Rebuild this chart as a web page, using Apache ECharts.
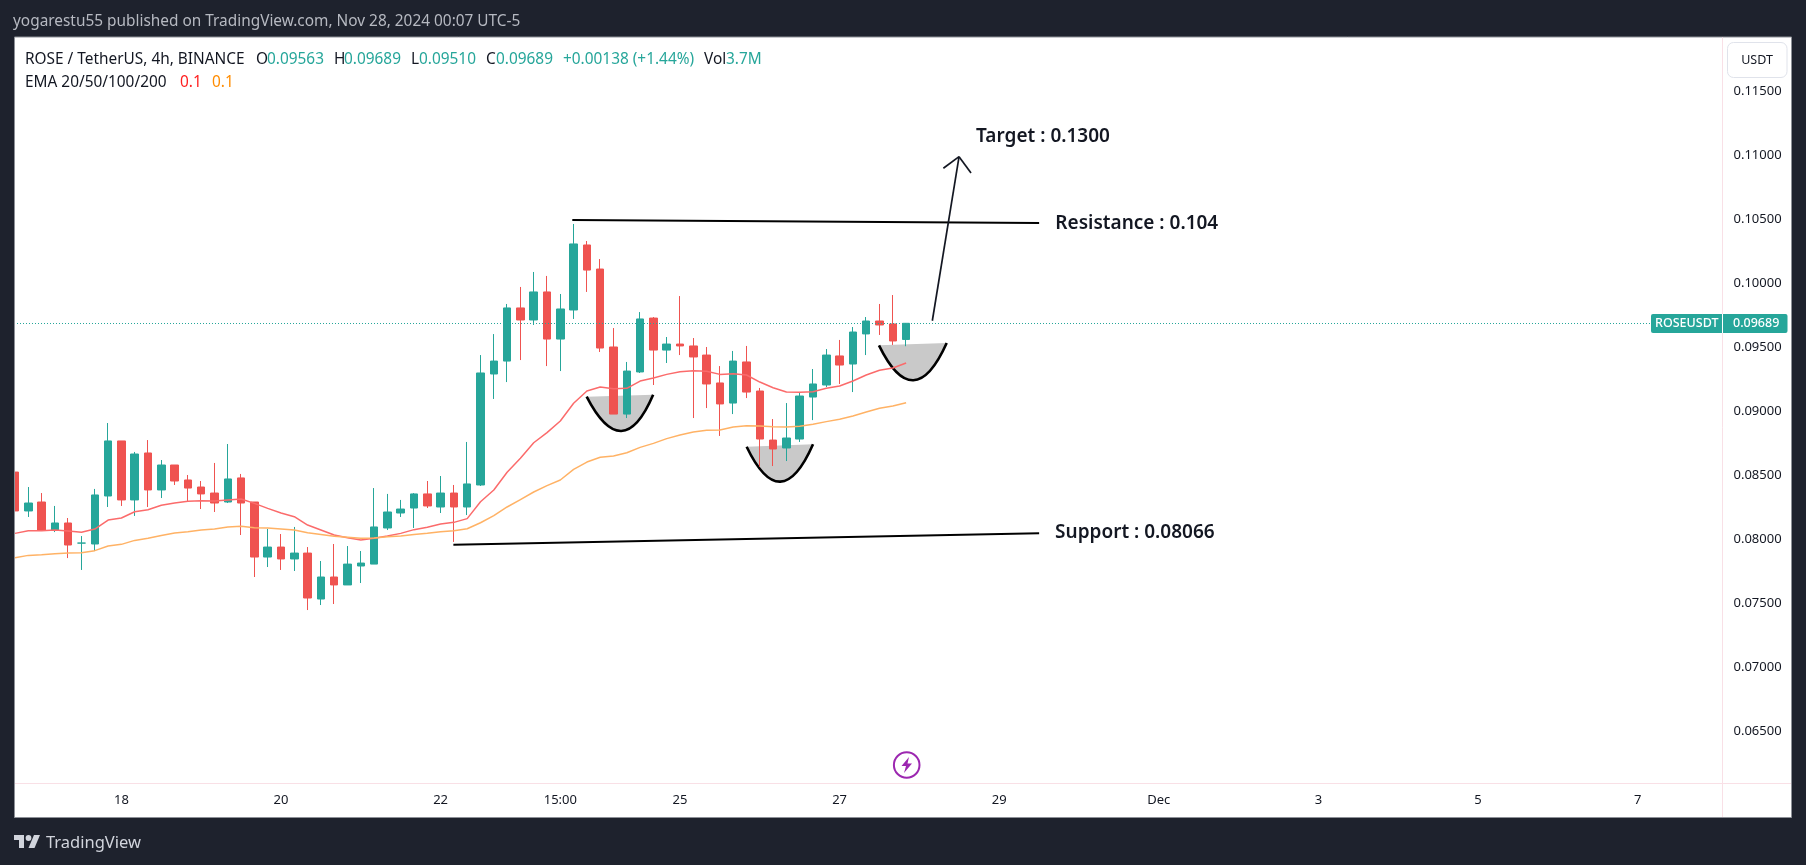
<!DOCTYPE html>
<html>
<head>
<meta charset="utf-8">
<title>ROSEUSDT 4h</title>
<style>
html, body { margin: 0; padding: 0; background: #1e222d; }
#chart { width: 1806px; height: 865px; }
</style>
<script src="https://cdn.jsdelivr.net/npm/echarts@6/dist/echarts.min.js"></script>
</head>
<body>
<div id="chart"></div>
<script>
var opens = [.08527,.08223,.08293,.08074,.08129,.07972,.07965,.08340,.08770,.08309,.08676,.08387,.08582,.08465,.08410,.08363,.08293,.08481,.08293,.07863,.07941,.07848,.07894,.07535,.07707,.07645,.07793,.07808,.08090,.08207,.08246,.08356,.08254,.08363,.08254,.08426,.09293,.09394,.09809,.09715,.09934,.09566,.09793,.10301,.10113,.09504,.08980,.09309,.09730,.09480,.09527,.09512,.09441,.09223,.09066,.09387,.09160,.08777,.08715,.08785,.09113,.09207,.09434,.09371,.09606,.09707,.09684,.09563];
var closes = [.08223,.08285,.08074,.08129,.07957,.07972,.08348,.08770,.08309,.08668,.08387,.08582,.08457,.08402,.08356,.08285,.08473,.08285,.07863,.07941,.07848,.07894,.07543,.07707,.07645,.07808,.07816,.08098,.08215,.08238,.08356,.08262,.08363,.08254,.08434,.09301,.09394,.09809,.09715,.09934,.09566,.09801,.10309,.10105,.09496,.08980,.09316,.09723,.09480,.09527,.09512,.09426,.09215,.09059,.09394,.09152,.08785,.08707,.08793,.09121,.09215,.09441,.09363,.09621,.09707,.09676,.09551,.09689];
var lows = [.07991,.08176,.08074,.08058,.07855,.07762,.07910,.08254,.08262,.08184,.08254,.08324,.08426,.08293,.08238,.08215,.08285,.08035,.07707,.07785,.07762,.07754,.07449,.07488,.07496,.07645,.07660,.07808,.08074,.08176,.08090,.08246,.08207,.07981,.08191,.08418,.09098,.09230,.09402,.09676,.09355,.09316,.09723,.09934,.09465,.08980,.08949,.09301,.09207,.09379,.09441,.08949,.09027,.08809,.08980,.09105,.08569,.08574,.08613,.08762,.08933,.09191,.09215,.09152,.09441,.09598,.09520,.09510];
var highs = [.08564,.08410,.08363,.08262,.08168,.08027,.08395,.08910,.08770,.08684,.08777,.08621,.08582,.08504,.08457,.08598,.08746,.08512,.08293,.08082,.08043,.08098,.07941,.07832,.07965,.07949,.07910,.08402,.08356,.08309,.08363,.08457,.08496,.08426,.08762,.09441,.09605,.09840,.09973,.10090,.10059,.09918,.10465,.10332,.10191,.09652,.09387,.09777,.09738,.09582,.09902,.09574,.09504,.09355,.09473,.09512,.09184,.08941,.09066,.09145,.09332,.09488,.09559,.09660,.09738,.09840,.09910,.09689];
var ema20 = [.08048,.08069,.08069,.08074,.08066,.08056,.08082,.08152,.08168,.08217,.08233,.08267,.08285,.08298,.08303,.08301,.08309,.08316,.08282,.08243,.08207,.08178,.08113,.08074,.08035,.08014,.07996,.08009,.08027,.08048,.08077,.08095,.08121,.08134,.08163,.08295,.08387,.08525,.08634,.08756,.08835,.08926,.09064,.09160,.09191,.09178,.09181,.09238,.09262,.09290,.09311,.09319,.09314,.09290,.09295,.09285,.09230,.09186,.09152,.09150,.09155,.09181,.09199,.09238,.09285,.09322,.09340,.09379];
var ema50 = [.07858,.07876,.07881,.07889,.07894,.07897,.07913,.07949,.07962,.07993,.08009,.08032,.08051,.08061,.08074,.08082,.08098,.08103,.08092,.08090,.08082,.08074,.08053,.08040,.08025,.08017,.08009,.08012,.08022,.08027,.08040,.08048,.08061,.08069,.08084,.08131,.08186,.08254,.08311,.08371,.08421,.08465,.08548,.08605,.08642,.08652,.08678,.08720,.08751,.08788,.08816,.08840,.08853,.08855,.08879,.08889,.08887,.08881,.08879,.08884,.08900,.08921,.08939,.08965,.08996,.09025,.09043,.09069];

var lastPrice = 0.09689;
var priceTicks = [0.065, 0.07, 0.075, 0.08, 0.085, 0.09, 0.095, 0.1, 0.105, 0.11, 0.115];
var timeTickIndex = [8, 20, 32, 41, 50, 62, 74, 86, 98, 110, 122];
var timeTickLabels = ['18', '20', '22', '15:00', '25', '27', '29', 'Dec', '3', '5', '7'];

// drawn on top of the chart: [bar, price, bar, price]
var drawnLines = [
	[41.9, 0.10496, 77.0, 0.10473],
	[32.96, 0.07959, 77.0, 0.08048],
	[68.97, 0.09709, 70.98, 0.10991],
	[69.8, 0.10900, 70.98, 0.10991],
	[71.88, 0.10863, 70.98, 0.10991]
];
// cups: [left bar, left price, right bar, right price, bottom bar, bottom price]
var cups = [
	[42.98, 0.09116, 47.98, 0.09131, 45.58, 0.08848],
	[55.01, 0.08725, 60.0, 0.08744, 57.54, 0.08452],
	[64.96, 0.09517, 70.05, 0.09535, 67.54, 0.09244]
];
var noteLabels = ['Target : 0.1300', 'Resistance : 0.104', 'Support : 0.08066'];
var noteBars = [72.26, 78.22, 78.2];
var notePrices = [0.11150, 0.10466, 0.08052];

var uiFont = '"Noto Sans", sans-serif';
var bg = '#1e222d', green = '#26a69a', red = '#ef5350', sep = '#f9e0e6', ink = '#131722';
var legendSize = 15.4;

function txt(text, x, y, fill, size, extra) {
	var style = { text: text, x: x, y: y, fill: fill, font: (extra && extra.weight || 'normal') + ' ' + size + 'px ' + uiFont,
		verticalAlign: 'middle', align: (extra && extra.align) || 'left' };
	return { type: 'text', z: 20, silent: true, style: style };
}

var candleRows = opens.map(function (o, i) {
	return [i, o, closes[i], lows[i], highs[i]];
});
function withIndex(arr) {
	return arr.map(function (v, i) { return [i, v]; });
}

var myChart = echarts.init(document.getElementById('chart'), null, { renderer: 'canvas' });

var option = {
	animation: false,
	backgroundColor: bg,
	textStyle: { fontFamily: uiFont },
	grid: { left: 14, top: 37, width: 1708.5, height: 746 },
	xAxis: {
		type: 'value',
		min: -0.075,
		max: 128.38,
		splitLine: { show: false },
		axisLine: { show: false },
		axisTick: { show: false },
		axisLabel: {
			customValues: timeTickIndex,
			color: ink,
			fontSize: 13,
			margin: 11,
			formatter: function (v) { return timeTickLabels[timeTickIndex.indexOf(v)]; }
		}
	},
	yAxis: {
		type: 'value',
		position: 'right',
		min: 0.060977,
		max: 0.119258,
		splitLine: { show: false },
		axisLine: { show: false },
		axisTick: { show: false },
		axisLabel: {
			customValues: priceTicks,
			color: ink,
			fontSize: 13,
			margin: 11,
			formatter: function (v) { return v.toFixed(5); }
		}
	},
	series: [
		{
			type: 'custom',
			z: 1,
			clip: false,
			data: cups,
			encode: { x: [0, 2, 4], y: [1, 3, 5] },
			renderItem: function (params, api) {
				var l = api.coord([api.value(0), api.value(1)]);
				var r = api.coord([api.value(2), api.value(3)]);
				var b = api.coord([api.value(4), api.value(5)]);
				return {
					type: 'bezierCurve',
					shape: {
						x1: l[0], y1: l[1], x2: r[0], y2: r[1],
						cpx1: 2 * b[0] - (l[0] + r[0]) / 2,
						cpy1: 2 * b[1] - (l[1] + r[1]) / 2
					},
					style: { fill: '#c9c9c9', stroke: '#000', lineWidth: 2.6 }
				};
			}
		},
		{
			type: 'candlestick',
			z: 2,
			barWidth: 8,
			data: candleRows,
			itemStyle: { color: green, color0: red, borderColor: green, borderColor0: red, borderWidth: 1 },
			markLine: {
				silent: true,
				symbol: 'none',
				precision: 5,
				label: { show: false },
				lineStyle: { color: green, type: [1, 2], width: 1 },
				data: [{ yAxis: lastPrice }]
			}
		},
		{
			type: 'line',
			z: 3,
			data: withIndex(ema20),
			showSymbol: false,
			lineStyle: { color: '#fb6b6b', width: 1.5 }
		},
		{
			type: 'line',
			z: 3,
			data: withIndex(ema50),
			showSymbol: false,
			lineStyle: { color: '#ffb265', width: 1.5 }
		},
		{
			type: 'custom',
			z: 4,
			clip: false,
			data: drawnLines,
			encode: { x: [0, 2], y: [1, 3] },
			renderItem: function (params, api) {
				var a = api.coord([api.value(0), api.value(1)]);
				var b = api.coord([api.value(2), api.value(3)]);
				return {
					type: 'line',
					shape: { x1: a[0], y1: a[1], x2: b[0], y2: b[1] },
					style: { stroke: params.dataIndex < 2 ? '#000' : ink, lineWidth: params.dataIndex < 2 ? 2 : 1.7 }
				};
			}
		},
		{
			type: 'custom',
			z: 4,
			clip: false,
			data: withIndex(noteBars).map(function (d) { return [d[1], notePrices[d[0]]]; }),
			encode: { x: 0, y: 1 },
			renderItem: function (params, api) {
				var p = api.coord([api.value(0), api.value(1)]);
				return {
					type: 'text',
					style: {
						text: noteLabels[params.dataIndex], x: p[0], y: p[1], fill: ink,
						font: '600 19px ' + uiFont, align: 'left', verticalAlign: 'middle'
					}
				};
			}
		}
	],
	graphic: [
		{ type: 'rect', z: -1, silent: true, shape: { x: 14.5, y: 37, width: 1777, height: 780.5 }, style: { fill: '#fff', stroke: '#8d9097', lineWidth: 1 } },
		{ type: 'line', z: -1, silent: true, shape: { x1: 1722.5, y1: 37.5, x2: 1722.5, y2: 817 }, style: { stroke: sep, lineWidth: 1 } },
		{ type: 'line', z: -1, silent: true, shape: { x1: 15, y1: 783.5, x2: 1791, y2: 783.5 }, style: { stroke: sep, lineWidth: 1 } },

		// the first candle is cut off by the frame
		{ type: 'rect', z: 19, silent: true, shape: { x: 0, y: 37, width: 14, height: 781 }, style: { fill: bg } },
		{ type: 'line', z: 19, silent: true, shape: { x1: 14.5, y1: 37, x2: 14.5, y2: 817.5 }, style: { stroke: '#8d9097', lineWidth: 1 } },

		txt('yogarestu55 published on TradingView.com, Nov 28, 2024 00:07 UTC-5', 13, 22, '#b6b9c1', legendSize),

		txt('ROSE / TetherUS, 4h, BINANCE', 25, 60, ink, legendSize),
		txt('O', 256, 60, ink, legendSize),
		txt('0.09563', 267, 60, green, legendSize),
		txt('H', 334, 60, ink, legendSize),
		txt('0.09689', 344, 60, green, legendSize),
		txt('L', 411, 60, ink, legendSize),
		txt('0.09510', 419, 60, green, legendSize),
		txt('C', 486, 60, ink, legendSize),
		txt('0.09689', 496, 60, green, legendSize),
		txt('+0.00138 (+1.44%)', 563, 60, green, legendSize),
		txt('Vol', 704, 60, ink, legendSize),
		txt('3.7M', 726, 60, green, legendSize),
		txt('EMA 20/50/100/200', 25, 83, ink, legendSize),
		txt('0.1', 180, 83, '#ff1f1f', legendSize),
		txt('0.1', 212, 83, '#ff8c00', legendSize),

		{ type: 'rect', z: 20, silent: true, shape: { x: 1727.5, y: 42.5, width: 59.5, height: 35, r: 6 }, style: { fill: '#fff', stroke: '#e0e3eb', lineWidth: 1 } },
		txt('USDT', 1757, 60, ink, 12.5, { align: 'center' }),

		{ type: 'rect', z: 20, silent: true, shape: { x: 1651, y: 314, width: 136.5, height: 19, r: 2 }, style: { fill: green } },
		{ type: 'line', z: 21, silent: true, shape: { x1: 1722.5, y1: 314, x2: 1722.5, y2: 333 }, style: { stroke: '#fff', lineWidth: 1 } },
		txt('ROSEUSDT', 1655, 323.5, '#fff', 12.5, { weight: '500' }),
		txt('0.09689', 1733, 323.5, '#fff', 12.5, { weight: '500' }),

		{ type: 'circle', z: 20, silent: true, shape: { cx: 906.7, cy: 765, r: 12.8 }, style: { fill: '#fff', stroke: '#9c27b0', lineWidth: 2 } },
		{ type: 'polygon', z: 20, silent: true, shape: { points: [[909, 757], [901.5, 766], [906, 766], [904, 773], [912, 763.5], [907.5, 763.5]] }, style: { fill: '#9c27b0' } },

		// TradingView mark
		{ type: 'polygon', z: 20, silent: true, shape: { points: [[14, 835], [24, 835], [24, 848], [19, 848], [19, 840], [14, 840]] }, style: { fill: '#d1d4dc' } },
		{ type: 'circle', z: 20, silent: true, shape: { cx: 28.5, cy: 838, r: 2.9 }, style: { fill: '#d1d4dc' } },
		{ type: 'polygon', z: 20, silent: true, shape: { points: [[34, 835], [40, 835], [34.5, 848], [28.5, 848]] }, style: { fill: '#d1d4dc' } },
		txt('TradingView', 46, 843, '#d1d4dc', 16.5)
	]
};
myChart.setOption(option);
</script>
</body>
</html>
